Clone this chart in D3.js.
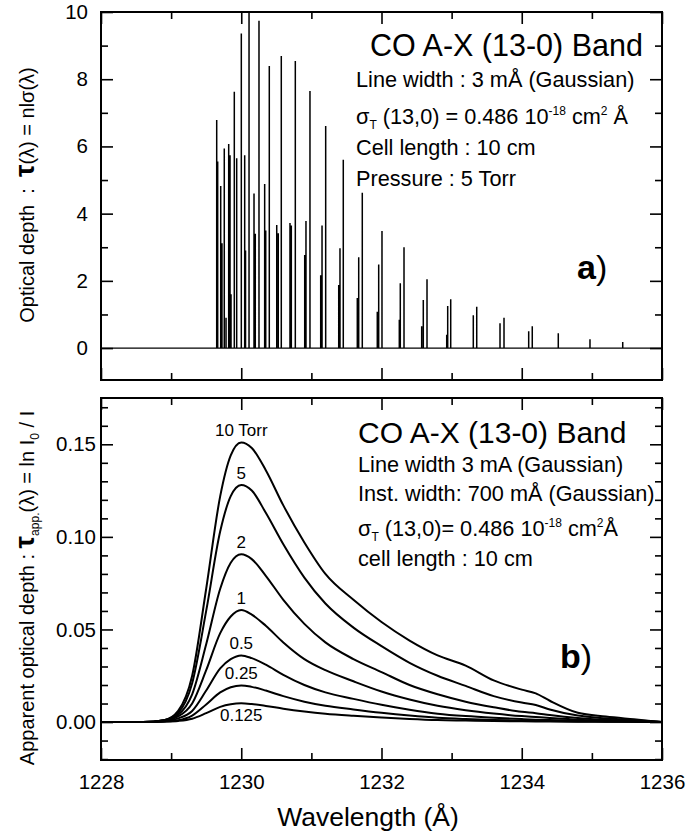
<!DOCTYPE html>
<html>
<head>
<meta charset="utf-8">
<script src="https://cdn.jsdelivr.net/npm/d3@7"></script>
<style>
    body { margin: 0; background: #fff; }
    svg { font-family: "Liberation Sans", Arial, sans-serif; }
</style>
</head>
<body>
<svg id="chart" width="700" height="839"></svg>
<script>
// Panel a) : stick lines of the band (wavelength in Å, optical depth)
const lineWavelengths = [
    1229.650, 1229.664, 1229.707, 1229.725, 1229.758, 1229.783, 1229.821, 1229.840,
    1229.854, 1229.901, 1229.935, 1230.001, 1230.049, 1230.061, 1230.111, 1230.182,
    1230.200, 1230.253, 1230.334, 1230.349, 1230.400, 1230.506, 1230.528, 1230.571,
    1230.695, 1230.714, 1230.771, 1230.905, 1230.923, 1230.980, 1231.133, 1231.152,
    1231.204, 1231.390, 1231.408, 1231.455, 1231.655, 1231.675, 1231.726, 1231.940,
    1231.960, 1232.007, 1232.254, 1232.268, 1232.321, 1232.573, 1232.596, 1232.649,
    1232.930, 1232.944, 1232.987, 1233.309, 1233.358, 1233.690, 1233.747, 1234.099,
    1234.150, 1234.521, 1234.973, 1235.440
];
const lineDepths = [
    6.79, 5.55, 4.82, 3.12, 5.94, 0.9, 6.07, 5.74,
    1.6, 7.63, 5.65, 9.36, 5.74, 2.9, 10.0, 4.6,
    3.4, 9.74, 4.88, 3.5, 8.39, 3.66, 3.42, 8.69,
    3.72, 3.65, 8.54, 2.77, 3.78, 7.65, 2.17, 3.65,
    6.61, 1.88, 2.97, 5.6, 1.49, 2.7, 4.62, 1.08,
    2.49, 3.48, 0.84, 1.93, 3.0, 0.65, 1.43, 2.05,
    0.4, 1.25, 1.45, 0.98, 1.23, 0.74, 0.9, 0.5,
    0.65, 0.44, 0.26, 0.18
];

// Panel b) : apparent optical depth for each pressure
const wavelengthGrid = [
    1228.0, 1228.6, 1228.9, 1229.1, 1229.3, 1229.5, 1229.7, 1229.85, 1230.0, 1230.15,
    1230.35, 1230.6, 1230.9, 1231.2, 1231.6, 1232.0, 1232.4, 1232.8, 1233.2, 1233.6,
    1234.0, 1234.2, 1234.4, 1234.8, 1235.2, 1235.6, 1236.0
];
const pressureLabels = ["10 Torr", "5", "2", "1", "0.5", "0.25", "0.125"];
const tau10 = [0, 0, 0.001, 0.006, 0.025, 0.072, 0.122, 0.144, 0.151, 0.148,
    0.136, 0.117, 0.097, 0.080, 0.066, 0.054, 0.044, 0.036, 0.0305, 0.0225,
    0.0175, 0.0155, 0.0115, 0.005, 0.003, 0.0015, 0];
const tau5 = [0, 0, 0.001, 0.005, 0.021, 0.060, 0.103, 0.122, 0.128, 0.125,
    0.113, 0.096, 0.078, 0.064, 0.051, 0.041, 0.032, 0.025, 0.0195, 0.014,
    0.0105, 0.0092, 0.0068, 0.0035, 0.002, 0.001, 0];
const tau2 = [0, 0, 0.001, 0.004, 0.015, 0.042, 0.072, 0.086, 0.0906, 0.088,
    0.079, 0.066, 0.053, 0.043, 0.034, 0.027, 0.020, 0.015, 0.011, 0.008,
    0.0055, 0.0048, 0.0038, 0.0022, 0.0012, 0.0006, 0];
const tau1 = [0, 0, 0.0008, 0.003, 0.010, 0.028, 0.048, 0.057, 0.0605, 0.058,
    0.052, 0.043, 0.034, 0.028, 0.022, 0.0165, 0.0122, 0.0088, 0.0064, 0.0046,
    0.0032, 0.0027, 0.0022, 0.0013, 0.0008, 0.0004, 0];
const tau05 = [0, 0, 0.0005, 0.002, 0.006, 0.017, 0.029, 0.034, 0.036, 0.0345,
    0.031, 0.0255, 0.020, 0.016, 0.0125, 0.0093, 0.0066, 0.0045, 0.0032, 0.0023,
    0.0016, 0.0013, 0.0011, 0.0007, 0.0004, 0.0002, 0];
const tau025 = [0, 0, 0.0003, 0.001, 0.0035, 0.0095, 0.016, 0.0188, 0.0198, 0.019,
    0.017, 0.014, 0.011, 0.0088, 0.0068, 0.005, 0.0035, 0.0023, 0.0016, 0.0011,
    0.0008, 0.00065, 0.0005, 0.0003, 0.0002, 0.0001, 0];
const tau0125 = [0, 0, 0.0002, 0.0006, 0.0018, 0.0048, 0.0082, 0.0096, 0.0101, 0.0097,
    0.0087, 0.0072, 0.0057, 0.0045, 0.0034, 0.0025, 0.0017, 0.0011, 0.0008, 0.0005,
    0.0004, 0.00035, 0.0003, 0.0002, 0.0001, 0.0001, 0];
const apparentSeries = [tau10, tau5, tau2, tau1, tau05, tau025, tau0125];

// Tick values
const wavelengthTicks = [1228, 1230, 1232, 1234, 1236];
const depthTicks = [0, 2, 4, 6, 8, 10];
const apparentTicks = [0, 0.05, 0.10, 0.15];

const svg = d3.select("#chart");

const x = d3.scaleLinear().domain([1228, 1236]).range([101, 662]);
const yTop = d3.scaleLinear().domain([-0.95, 10]).range([380, 12]);
const yBottom = d3.scaleLinear().domain([-0.0205, 0.175]).range([760, 398]);

// Inward ticks on all four sides of a panel
function drawFrameTicks(g, y, majorY, minorY, majorX, minorX) {
    let [x0, x1] = x.range();
    let [y1, y0] = y.range();

    let sides = [
        {axis: d3.axisLeft(y), at: [x0, 0], vals: [majorY, minorY]},
        {axis: d3.axisRight(y), at: [x1, 0], vals: [majorY, minorY]},
        {axis: d3.axisTop(x), at: [0, y0], vals: [majorX, minorX]},
        {axis: d3.axisBottom(x), at: [0, y1], vals: [majorX, minorX]}
    ];
    sides.forEach(s => {
        [[s.vals[0], 12], [s.vals[1], 7]].forEach(([vals, size]) => {
            g.append("g")
             .attr("transform", `translate(${s.at[0]},${s.at[1]})`)
             .call(s.axis.tickValues(vals).tickSize(-size).tickFormat(""))
             .call(a => a.select(".domain").remove())
             .selectAll("line")
             .attr("stroke", "#000")
             .attr("stroke-width", 1.6);
        });
    });

    g.append("rect")
     .attr("x", x0).attr("y", y0)
     .attr("width", x1 - x0).attr("height", y1 - y0)
     .attr("fill", "none")
     .attr("stroke", "#000")
     .attr("stroke-width", 2);
}

// Panel a)
function drawPanelA() {
    let g = svg.append("g");

    let minorWave = d3.range(1229, 1236, 2);
    drawFrameTicks(g, yTop, depthTicks, [1, 3, 5, 7, 9], wavelengthTicks, minorWave);

    // tick labels on the left
    g.append("g")
     .attr("transform", `translate(${x.range()[0]},0)`)
     .call(d3.axisLeft(yTop).tickValues(depthTicks).tickSize(0).tickPadding(13))
     .call(a => a.select(".domain").remove())
     .selectAll("text")
     .attr("font-size", 20.5)
     .attr("font-family", "Liberation Sans, Arial, sans-serif")
     .attr("fill", "#000");

    // zero line
    g.append("line")
     .attr("x1", x(1228)).attr("x2", x(1236))
     .attr("y1", yTop(0)).attr("y2", yTop(0))
     .attr("stroke", "#000").attr("stroke-width", 1.2);

    // stick spectrum
    let sticks = d3.path();
    lineWavelengths.forEach((w, i) => {
        sticks.moveTo(x(w), yTop(0));
        sticks.lineTo(x(w), yTop(lineDepths[i]));
    });
    g.append("path")
     .attr("d", sticks.toString())
     .attr("stroke", "#000")
     .attr("stroke-width", 1.5)
     .attr("fill", "none");

    // annotations
    let t = g.append("g").attr("fill", "#000");
    t.append("text").attr("x", 370).attr("y", 56)
     .attr("font-size", 30.5).text("CO A-X (13-0) Band");
    t.append("text").attr("x", 356).attr("y", 87)
     .attr("font-size", 21.7).text("Line width : 3 mÅ (Gaussian)");
    let s = t.append("text").attr("x", 356).attr("y", 124).attr("font-size", 21.7);
    sigmaLine(s, " (13,0) = 0.486 10", " cm", " Å");
    t.append("text").attr("x", 356).attr("y", 155)
     .attr("font-size", 21.7).text("Cell length : 10 cm");
    t.append("text").attr("x", 356).attr("y", 186)
     .attr("font-size", 21.7).text("Pressure : 5 Torr");

    let lab = t.append("text").attr("x", 577).attr("y", 279).attr("font-size", 34);
    lab.append("tspan").attr("font-weight", "bold").text("a");
    lab.append("tspan").text(")");

    // y title
    let yt = g.append("text")
      .attr("transform", "translate(34,195) rotate(-90)")
      .attr("text-anchor", "middle")
      .attr("font-size", 20);
    yt.append("tspan").text("Optical depth\u00a0 :\u00a0 ");
    yt.append("tspan").attr("font-size", 28).attr("font-weight", "bold").text("τ");
    yt.append("tspan").text("(λ) = nlσ(λ)");
}

// σ_T (13,0) ... 10^-18 cm^2 Å
function sigmaLine(s, mid, unit, tail) {
    s.append("tspan").text("σ");
    s.append("tspan").attr("font-size", 12).attr("dy", 5).text("T");
    s.append("tspan").attr("dy", -5).text(mid);
    s.append("tspan").attr("font-size", 12).attr("dy", -9).text("-18");
    s.append("tspan").attr("dy", 9).text(unit);
    s.append("tspan").attr("font-size", 12).attr("dy", -9).text("2");
    s.append("tspan").attr("dy", 9).text(tail);
}

// Panel b)
function drawPanelB() {
    let g = svg.append("g");

    let minorApp = d3.range(-0.02, 0.171, 0.01).filter(v => Math.abs(v * 20 - Math.round(v * 20)) > 1e-6);
    drawFrameTicks(g, yBottom, apparentTicks, minorApp, wavelengthTicks, d3.range(1229, 1236, 2));

    g.append("g")
     .attr("transform", `translate(${x.range()[0]},0)`)
     .call(d3.axisLeft(yBottom).tickValues(apparentTicks).tickSize(0).tickPadding(5).tickFormat(d3.format(".2f")))
     .call(a => a.select(".domain").remove())
     .selectAll("text")
     .attr("font-size", 20.5)
     .attr("font-family", "Liberation Sans, Arial, sans-serif")
     .attr("fill", "#000");

    g.append("g")
     .attr("transform", `translate(0,${yBottom.range()[0]})`)
     .call(d3.axisBottom(x).tickValues(wavelengthTicks).tickSize(0).tickPadding(14).tickFormat(d3.format("d")))
     .call(a => a.select(".domain").remove())
     .selectAll("text")
     .attr("font-size", 20.5)
     .attr("font-family", "Liberation Sans, Arial, sans-serif")
     .attr("fill", "#000");

    // curves
    let line = d3.line()
        .x((d, i) => x(wavelengthGrid[i]))
        .y(d => yBottom(d))
        .curve(d3.curveMonotoneX);

    g.selectAll("path.curve")
     .data(apparentSeries)
     .join("path")
     .attr("class", "curve")
     .attr("d", line)
     .attr("fill", "none")
     .attr("stroke", "#000")
     .attr("stroke-width", 2);

    // pressure labels
    g.selectAll("text.plab")
     .data(apparentSeries)
     .join("text")
     .attr("class", "plab")
     .attr("x", x(1230))
     .attr("y", (d, i) => i === apparentSeries.length - 1 ? yBottom(0) - 1 : yBottom(d3.max(d)) - 6)
     .attr("text-anchor", "middle")
     .attr("font-size", 17)
     .text((d, i) => pressureLabels[i]);

    // annotations
    let t = g.append("g").attr("fill", "#000");
    t.append("text").attr("x", 358).attr("y", 443)
     .attr("font-size", 30).text("CO A-X (13-0) Band");
    t.append("text").attr("x", 358).attr("y", 472)
     .attr("font-size", 21.7).text("Line width 3 mA (Gaussian)");
    t.append("text").attr("x", 358).attr("y", 501)
     .attr("font-size", 21.7).text("Inst. width: 700 mÅ (Gaussian)");
    let s = t.append("text").attr("x", 358).attr("y", 536).attr("font-size", 21.7);
    sigmaLine(s, " (13,0)= 0.486 10", " cm", "Å");
    t.append("text").attr("x", 358).attr("y", 566)
     .attr("font-size", 21.7).text("cell length : 10 cm");

    let lab = t.append("text").attr("x", 560).attr("y", 668).attr("font-size", 34);
    lab.append("tspan").attr("font-weight", "bold").text("b");
    lab.append("tspan").text(")");

    // y title
    let yt = g.append("text")
      .attr("transform", "translate(34,588) rotate(-90)")
      .attr("text-anchor", "middle")
      .attr("font-size", 20);
    yt.append("tspan").text("Apparent optical depth : ");
    yt.append("tspan").attr("font-size", 28).attr("font-weight", "bold").text("τ");
    yt.append("tspan").attr("font-size", 12).attr("dy", 5).text("app.");
    yt.append("tspan").attr("dy", -5).text("(λ) = ln I");
    yt.append("tspan").attr("font-size", 12).attr("dy", 5).text("0");
    yt.append("tspan").attr("dy", -5).text(" / I");

    // x title
    g.append("text")
     .attr("x", 368).attr("y", 826)
     .attr("text-anchor", "middle")
     .attr("font-size", 26.5)
     .text("Wavelength (Å)");
}

drawPanelA();
drawPanelB();
</script>
</body>
</html>
